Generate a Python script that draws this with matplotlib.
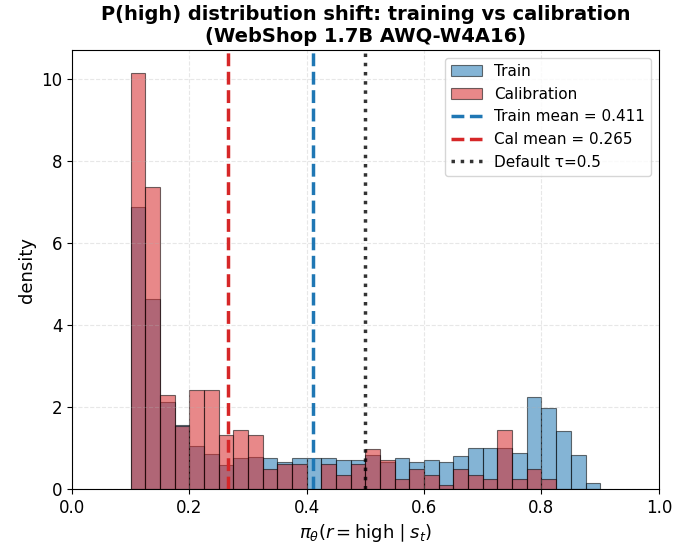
import numpy as np
import matplotlib.pyplot as plt

# bin edges 0.1 .. 0.9, width 0.025
edges = np.linspace(0.1, 0.9, 33)
centers = (edges[:-1] + edges[1:]) / 2

train_density = [6.88, 4.63, 2.13, 1.56, 1.05, 0.85, 0.58, 0.75,
                 0.79, 0.75, 0.67, 0.76, 0.76, 0.76, 0.71, 0.72,
                 0.82, 0.67, 0.76, 0.67, 0.70, 0.66, 0.80, 0.99,
                 0.99, 0.99, 0.89, 2.25, 1.98, 1.42, 0.82, 0.14]
cal_density = [10.15, 7.37, 2.29, 1.55, 2.41, 2.41, 1.32, 1.44,
               1.32, 0.48, 0.60, 0.60, 0.0, 0.60, 0.34, 0.60,
               0.97, 0.72, 0.24, 0.48, 0.34, 0.11, 0.48, 0.34,
               0.24, 1.44, 0.24, 0.48, 0.24, 0.0, 0.0, 0.0]

train_mean = 0.411
cal_mean = 0.265
tau = 0.5

fig, ax = plt.subplots(figsize=(6.73, 5.52), dpi=100)
ax.hist(centers, bins=edges, weights=train_density, color="tab:blue",
        alpha=0.55, edgecolor="black", linewidth=0.8, label="Train")
ax.hist(centers, bins=edges, weights=cal_density, color="tab:red",
        alpha=0.55, edgecolor="black", linewidth=0.8, label="Calibration")
ax.axvline(train_mean, color="tab:blue", linestyle="--", linewidth=2.5,
           label=f"Train mean = {train_mean:.3f}")
ax.axvline(cal_mean, color="tab:red", linestyle="--", linewidth=2.5,
           label=f"Cal mean = {cal_mean:.3f}")
ax.axvline(tau, color="black", linestyle=":", linewidth=2.5, alpha=0.8,
           label=f"Default \u03c4={tau}")

ax.set_xlim(0, 1)
ax.set_ylim(0, 10.7)
ax.grid(True, linestyle="--", alpha=0.3)
ax.set_xlabel(r"$\pi_\theta(r = \mathrm{high} \mid s_t)$", fontsize=13)
ax.set_ylabel("density", fontsize=13)
ax.tick_params(labelsize=12)
ax.set_title("P(high) distribution shift: training vs calibration\n(WebShop 1.7B AWQ-W4A16)",
             fontsize=14, fontweight="bold")
ax.legend(loc="upper right", fontsize=11)
fig.subplots_adjust(left=0.107, right=0.979, top=0.909, bottom=0.114)
fig.savefig("out.png", dpi=100)
